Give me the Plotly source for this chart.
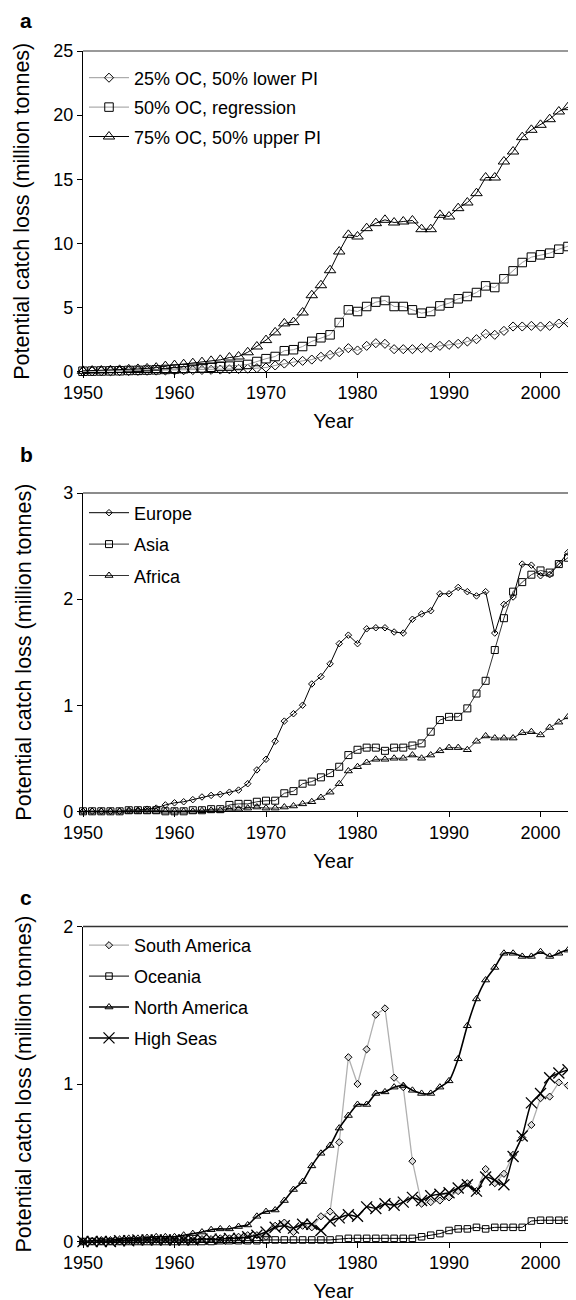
import plotly.graph_objects as go

years = list(range(1950, 2005))

# Panel a
oc25_lower = [0.0,0.01,0.02,0.02,0.03,0.04,0.05,0.06,0.07,0.08,
              0.09,0.10,0.11,0.12,0.13,0.15,0.17,0.19,0.22,0.26,
              0.31,0.47,0.62,0.73,0.83,0.93,1.15,1.30,1.51,1.82,
              1.64,2.00,2.21,2.16,1.74,1.74,1.74,1.82,1.87,2.00,
              2.08,2.16,2.34,2.52,2.94,2.86,3.17,3.51,3.51,3.56,
              3.51,3.56,3.74,3.82,3.90]
oc50_reg = [0.02,0.03,0.04,0.05,0.06,0.08,0.09,0.11,0.13,0.16,
            0.19,0.22,0.25,0.28,0.33,0.40,0.42,0.47,0.55,0.78,
            1.00,1.17,1.62,1.70,1.95,2.35,2.63,2.86,3.82,4.81,
            4.68,5.07,5.41,5.54,5.07,5.07,4.81,4.55,4.68,5.12,
            5.33,5.67,5.85,6.16,6.68,6.55,7.23,7.85,8.50,8.92,
            9.10,9.23,9.54,9.75,10.01]
oc75_upper = [0.05,0.07,0.08,0.10,0.13,0.17,0.20,0.24,0.30,0.42,
              0.50,0.57,0.65,0.73,0.83,0.91,1.09,1.17,1.50,1.95,
              2.45,3.05,3.75,3.85,4.60,5.95,6.73,7.90,9.36,10.66,
              10.53,11.18,11.57,11.83,11.62,11.70,11.78,11.10,11.10,12.22,
              12.09,12.74,13.18,13.91,15.13,15.13,16.38,17.16,18.28,18.85,
              19.24,19.68,20.28,20.62,20.49]

# Panel b
europe = [0.0,0.0,0.0,0.0,0.0,0.01,0.01,0.02,0.03,0.06,
          0.08,0.09,0.11,0.135,0.15,0.16,0.18,0.20,0.26,0.39,
          0.49,0.66,0.85,0.92,1.00,1.20,1.27,1.39,1.58,1.66,
          1.58,1.72,1.73,1.73,1.69,1.68,1.81,1.86,1.89,2.05,
          2.05,2.11,2.07,2.03,2.07,1.68,1.95,2.02,2.33,2.32,
          2.22,2.23,2.33,2.44,2.81]
asia = [0.0,0.0,0.0,0.0,0.0,0.01,0.01,0.01,0.01,0.0,
        0.0,0.0,0.01,0.01,0.02,0.02,0.06,0.07,0.07,0.09,
        0.10,0.10,0.17,0.19,0.26,0.28,0.32,0.36,0.42,0.53,
        0.58,0.60,0.60,0.57,0.60,0.60,0.62,0.64,0.75,0.86,
        0.89,0.89,0.97,1.11,1.23,1.52,1.82,2.07,2.16,2.23,
        2.27,2.25,2.33,2.39,2.29]
africa = [0.0,0.0,0.0,0.0,0.0,0.0,0.0,0.0,0.0,0.0,
          0.0,0.0,0.0,0.005,0.01,0.01,0.02,0.02,0.03,0.04,
          0.03,0.03,0.04,0.05,0.07,0.09,0.13,0.18,0.26,0.38,
          0.42,0.46,0.49,0.49,0.50,0.50,0.53,0.50,0.53,0.57,
          0.60,0.60,0.58,0.66,0.71,0.69,0.69,0.69,0.74,0.75,
          0.72,0.79,0.84,0.89,0.79]

# Panel c
south_america = [0.0,0.0,0.0,0.0,0.0,0.005,0.005,0.01,0.01,0.01,
                 0.01,0.01,0.01,0.015,0.015,0.02,0.02,0.03,0.04,0.04,
                 0.03,0.10,0.12,0.06,0.10,0.09,0.16,0.19,0.63,1.17,
                 1.00,1.22,1.44,1.48,1.04,0.98,0.51,0.24,0.25,0.26,
                 0.28,0.32,0.37,0.32,0.46,0.37,0.43,0.55,0.66,0.74,
                 0.91,0.92,1.01,0.99,1.02]
oceania = [0.0,0.0,0.0,0.0,0.0,0.0,0.0,0.0,0.0,0.0,
           0.0,0.0,0.0,0.0,0.0,0.005,0.005,0.005,0.005,0.005,
           0.01,0.01,0.01,0.01,0.01,0.01,0.01,0.01,0.015,0.02,
           0.02,0.02,0.02,0.02,0.02,0.02,0.02,0.03,0.04,0.05,
           0.07,0.08,0.08,0.09,0.08,0.09,0.09,0.09,0.09,0.13,
           0.135,0.135,0.135,0.135,0.135]
north_america = [0.0,0.005,0.01,0.01,0.015,0.02,0.02,0.025,0.03,0.03,
                 0.03,0.04,0.05,0.06,0.075,0.08,0.08,0.095,0.105,0.16,
                 0.19,0.20,0.26,0.33,0.38,0.48,0.56,0.61,0.72,0.80,
                 0.87,0.87,0.94,0.95,0.98,0.99,0.96,0.94,0.94,0.98,
                 1.02,1.16,1.37,1.54,1.66,1.74,1.83,1.83,1.81,1.81,
                 1.84,1.81,1.83,1.85,1.68]
high_seas = [0.0,0.0,0.0,0.0,0.005,0.005,0.01,0.01,0.01,0.01,
             0.01,0.01,0.01,0.015,0.015,0.015,0.02,0.02,0.03,0.04,
             0.06,0.09,0.10,0.085,0.11,0.11,0.07,0.13,0.15,0.17,
             0.16,0.22,0.21,0.24,0.23,0.25,0.28,0.26,0.29,0.30,
             0.31,0.34,0.36,0.32,0.41,0.39,0.36,0.54,0.67,0.88,
             0.94,1.04,1.07,1.09,1.12]

x_ticks = [1950, 1960, 1970, 1980, 1990, 2000]
a_yticks = [0, 5, 10, 15, 20, 25]
b_yticks = [0, 1, 2, 3]
c_yticks = [0, 1, 2]

FONT = "Liberation Sans, Arial, sans-serif"
H = 1300.0
W = 576.0

def py(px):
    return 1 - px / H

fig = go.Figure()

def add(y, name, sym, size, lcolor, lwidth, ax, leg, group, shape="linear",
        mfill="rgba(0,0,0,0)", mlw=1):
    fig.add_trace(go.Scatter(
        x=years, y=y, name=name, mode="lines+markers",
        xaxis="x" + ax, yaxis="y" + ax, legend=leg, legendgroup=group,
        line=dict(color=lcolor, width=lwidth, shape=shape, smoothing=0.6),
        marker=dict(symbol=sym, size=size, color=mfill,
                    line=dict(color="black", width=mlw)),
        cliponaxis=False,
    ))

add(oc25_lower, "25% OC, 50% lower PI", "diamond", 7, "#999999", 1, "", "legend", "a1")
add(oc50_reg, "50% OC, regression", "square", 8.5, "#999999", 1, "", "legend", "a2")
add(oc75_upper, "75% OC, 50% upper PI", "triangle-up", 10, "black", 1, "", "legend", "a3")

add(europe, "Europe", "diamond", 5, "black", 1, "2", "legend2", "b1")
add(asia, "Asia", "square", 7, "#333333", 1, "2", "legend2", "b2")
add(africa, "Africa", "triangle-up", 7, "#333333", 1, "2", "legend2", "b3")

add(south_america, "South America", "diamond", 5.5, "#b0b0b0", 1.3, "3", "legend3", "c1", mfill="#dddddd")
add(oceania, "Oceania", "square", 6.5, "black", 1, "3", "legend3", "c2")
add(north_america, "North America", "triangle-up", 7, "black", 1.6, "3", "legend3", "c3", shape="spline")
add(high_seas, "High Seas", "x-thin-open", 11, "black", 1.5, "3", "legend3", "c4", shape="spline",
    mfill="black", mlw=1.3)

xdom = [75 / W, 1.0]
panels = [
    ("", [py(363.5), py(43)], [0, 25], a_yticks, 17),
    ("2", [py(803.3), py(485)], [0, 3], b_yticks, 25),
    ("3", [py(1233.5), py(918.5)], [0, 2], c_yticks, 25),
]

ax_common = dict(showline=True, linecolor="black", linewidth=1.2, ticks="outside",
                 ticklen=5, tickwidth=1.2, tickcolor="black", showgrid=False,
                 zeroline=False, tickfont=dict(family=FONT, size=18, color="black"))

layout = dict(
    width=576, height=1300, margin=dict(l=0, r=0, t=0, b=0),
    paper_bgcolor="white", plot_bgcolor="white",
    font=dict(family=FONT, color="black"),
)
for suffix, ydom, yr, yt, stand in panels:
    layout["xaxis" + suffix] = dict(
        domain=xdom, range=[1950, 2004.75], tickvals=x_ticks, anchor="y" + suffix,
        title=dict(text="Year", font=dict(family=FONT, size=20, color="black"), standoff=11),
        automargin=False, **ax_common)
    layout["yaxis" + suffix] = dict(
        domain=ydom, range=yr, tickvals=yt, anchor="x" + suffix,
        title=dict(text="Potential catch loss (million tonnes)",
                   font=dict(family=FONT, size=21.5, color="black"), standoff=stand),
        automargin=False, **ax_common)

leg_common = dict(bgcolor="rgba(0,0,0,0)", borderwidth=0,
                  font=dict(family=FONT, size=18, color="black"),
                  xanchor="left", yanchor="top", itemwidth=40)
layout["legend"] = dict(x=76 / W, y=py(51.5), tracegroupgap=3, **leg_common)
layout["legend2"] = dict(x=76 / W, y=py(486.5), tracegroupgap=5, **leg_common)
layout["legend3"] = dict(x=76 / W, y=py(919), tracegroupgap=4.5, **leg_common)

fig.update_layout(**layout)

top_colors = ["#777777", "#666666", "#333333"]
for (suffix, _, _, _, _), col in zip(panels, top_colors):
    fig.add_shape(type="line", xref=("x" + suffix) + " domain", yref=("y" + suffix) + " domain",
                  x0=0, x1=1, y0=1, y1=1, line=dict(color=col, width=1.5))

for lab, ypx in [("a", 12), ("b", 446), ("c", 889)]:
    fig.add_annotation(text="<b>" + lab + "</b>", xref="paper", yref="paper",
                       x=18 / W, y=py(ypx), xanchor="center", yanchor="middle",
                       showarrow=False, font=dict(family=FONT, size=21, color="black"))

fig.write_html("out.html")
